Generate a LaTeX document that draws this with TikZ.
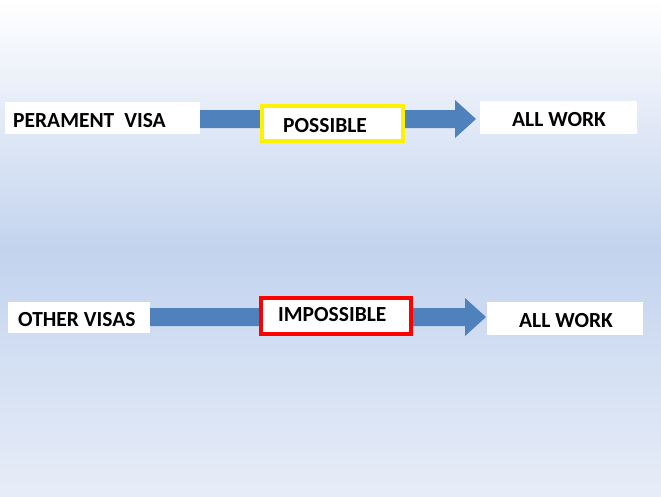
\documentclass[tikz,border=0pt]{standalone}
\usepackage{fontspec}
\setmainfont{Carlito}
\definecolor{arr}{HTML}{4F81BD}
\definecolor{bgmid}{HTML}{C3D3EE}
\begin{document}
\begin{tikzpicture}[x=1pt,y=-1pt,
  box/.style={fill=white,inner sep=0,anchor=north west},
  txt/.style={font=\bfseries\fontsize{21.5}{24}\selectfont,inner sep=0,anchor=base west}]
\shade[top color=white,bottom color=bgmid] (0,0) rectangle (661,250);
\shade[top color=bgmid,bottom color=white!60!bgmid] (0,250) rectangle (661,496);
\useasboundingbox (0,0) rectangle (661,496);
% top arrow
\fill[arr] (200,110) -- (455,110) -- (455,100) -- (476,119) -- (455,138) -- (455,128) -- (200,128) -- cycle;
\node[box,minimum width=195,minimum height=32] (pv) at (5,102) {};
\node[box,draw=yellow,line width=4,minimum width=141,minimum height=35] (pos) at (260,104) {};
\node[box,minimum width=157,minimum height=33] (aw1) at (480,101) {};
\node[txt] (t1) at (13,127) {PERAMENT\hspace{10pt}VISA};
\node[txt] (t2) at (283,132) {POSSIBLE};
\node[txt] (t3) at (512,126) {ALL WORK};
% bottom arrow
\fill[arr] (150,308) -- (465,308) -- (465,298) -- (486,317) -- (465,336) -- (465,326) -- (150,326) -- cycle;
\node[box,minimum width=142,minimum height=31] (ov) at (8,302) {};
\node[box,draw=red,line width=4,minimum width=150,minimum height=36] (imp) at (259,296) {};
\node[box,minimum width=156,minimum height=33] (aw2) at (487,302) {};
\node[txt] (t4) at (18,326) {OTHER VISAS};
\node[txt] (t5) at (278,321) {IMPOSSIBLE};
\node[txt] (t6) at (519,327) {ALL WORK};
\end{tikzpicture}
\end{document}
